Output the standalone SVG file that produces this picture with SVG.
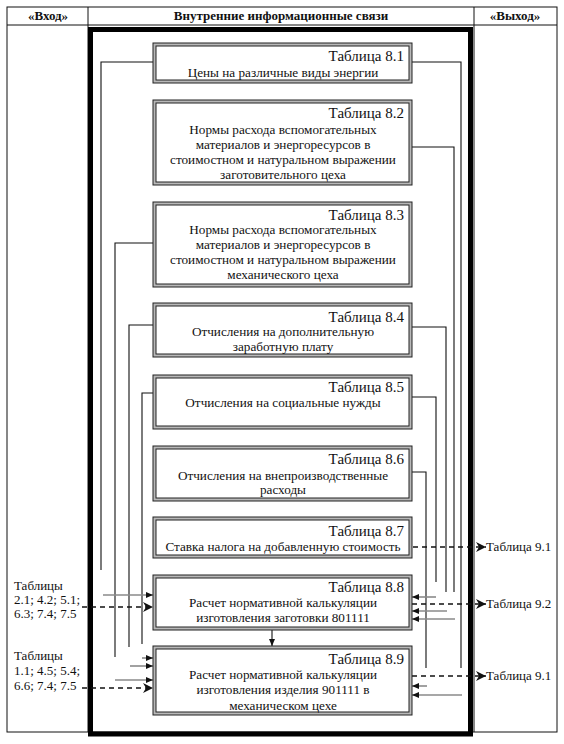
<svg xmlns="http://www.w3.org/2000/svg" width="564" height="744" viewBox="0 0 564 744">
<style>
text{font-family:"Liberation Serif","Times New Roman",serif;fill:#111}
.hd{font-size:13px;font-weight:bold;text-anchor:middle}
.tt{font-size:15px;text-anchor:end}
.bd{font-size:13.2px;text-anchor:middle}
.io{font-size:13px}
.ob{fill:#b8b8b8;stroke:#222;stroke-width:1}
.ib{fill:#fff;stroke:#222;stroke-width:1}
.ln{fill:none;stroke:#111;stroke-width:1.1}
.gr{fill:none;stroke:#8a8a8a;stroke-width:1.6;marker-end:url(#ah)}
.ds{fill:none;stroke:#111;stroke-width:1.4;stroke-dasharray:5,4;marker-end:url(#ch)}
</style>
<defs>
<marker id="ah" markerUnits="userSpaceOnUse" markerWidth="7" markerHeight="6" refX="7" refY="3" orient="auto"><path d="M0,0 L7,3 L0,6 z" fill="#111"/></marker>
<marker id="ch" markerUnits="userSpaceOnUse" markerWidth="10" markerHeight="10" refX="10" refY="5" orient="auto"><path d="M0,0 L10,5 L0,10 L3,5 z" fill="#111"/></marker>
</defs>
<rect width="564" height="744" fill="#fff"/>
<g id="table">
<rect x="7" y="7" width="550" height="725" fill="none" stroke="#111" stroke-width="1"/>
<line x1="7" y1="25" x2="557" y2="25" stroke="#111" stroke-width="1"/>
<line x1="88" y1="7" x2="88" y2="732" stroke="#111" stroke-width="1"/>
<line x1="474" y1="7" x2="474" y2="732" stroke="#111" stroke-width="1"/>
<text class="hd" x="48" y="20">«Вход»</text>
<text class="hd" x="281" y="20">Внутренние информационные связи</text>
<text class="hd" x="515" y="20">«Выход»</text>
<rect x="90.5" y="29.5" width="380" height="704.5" fill="none" stroke="#000" stroke-width="5"/>
</g>
<g id="connectors">
<path class="ln" d="M153,62 H101 V570"/>
<path class="ln" d="M153,243 H115 V657"/>
<path class="ln" d="M153,325 H129 V647"/>
<path class="ln" d="M153,393 H142 V644"/>
<path class="ln" d="M412,62 H461 V668"/>
<path class="ln" d="M412,147 H454 V592"/>
<path class="ln" d="M412,327 H446 V592"/>
<path class="ln" d="M412,397 H436 V582"/>
<path class="ln" d="M412,472 H426 V668"/>
<path class="gr" d="M103,595 H153"/>
<path class="gr" d="M142,658 H153"/>
<path class="gr" d="M130,666 H153"/>
<path class="gr" d="M115,680 H153"/>
<path class="gr" d="M436,597 H412"/>
<path class="gr" d="M447,611 H412"/>
<path class="gr" d="M455,619 H412"/>
<path class="gr" d="M427,686 H412"/>
<path class="gr" d="M462,695 H412"/>
<path class="ds" d="M82,607 H153"/>
<path class="ds" d="M82,688 H153"/>
<path class="ds" d="M404,547 H486"/>
<path class="ds" d="M412,604 H486"/>
<path class="ds" d="M412,676 H486"/>
<path class="ln" d="M272,630 V646" marker-end="url(#ah)"/>
</g>
<g id="in1">
<text class="io" x="14" y="590">Таблицы</text>
<text class="io" x="14" y="604">2.1; 4.2; 5.1;</text>
<text class="io" x="14" y="618">6.3; 7.4; 7.5</text>
</g>
<g id="in2">
<text class="io" x="14" y="660">Таблицы</text>
<text class="io" x="14" y="675">1.1; 4.5; 5.4;</text>
<text class="io" x="14" y="690">6.6; 7.4; 7.5</text>
</g>
<g id="out1"><text class="io" x="486" y="551">Таблица 9.1</text></g>
<g id="out2"><text class="io" x="486" y="608">Таблица 9.2</text></g>
<g id="out3"><text class="io" x="486" y="680">Таблица 9.1</text></g>
<g id="t81">
<rect class="ob" x="153" y="43" width="259" height="40"/><rect class="ib" x="156" y="46" width="253" height="34"/>
<text class="tt" x="404" y="61">Таблица 8.1</text>
<text class="bd" x="283" y="77">Цены на различные виды энергии</text>
</g>
<g id="t82">
<rect class="ob" x="153" y="100" width="259" height="85"/><rect class="ib" x="156" y="103" width="253" height="79"/>
<text class="tt" x="404" y="118">Таблица 8.2</text>
<text class="bd" x="283" y="134">Нормы расхода вспомогательных</text>
<text class="bd" x="283" y="149">материалов и энергоресурсов в</text>
<text class="bd" x="283" y="164">стоимостном и натуральном выражении</text>
<text class="bd" x="283" y="179">заготовительного цеха</text>
</g>
<g id="t83">
<rect class="ob" x="153" y="202" width="259" height="85"/><rect class="ib" x="156" y="205" width="253" height="79"/>
<text class="tt" x="404" y="220">Таблица 8.3</text>
<text class="bd" x="283" y="234">Нормы расхода вспомогательных</text>
<text class="bd" x="283" y="249">материалов и энергоресурсов в</text>
<text class="bd" x="283" y="264">стоимостном и натуральном выражении</text>
<text class="bd" x="283" y="279">механического цеха</text>
</g>
<g id="t84">
<rect class="ob" x="153" y="303" width="259" height="54"/><rect class="ib" x="156" y="306" width="253" height="48"/>
<text class="tt" x="404" y="322">Таблица 8.4</text>
<text class="bd" x="283" y="336">Отчисления на дополнительную</text>
<text class="bd" x="283" y="351">заработную плату</text>
</g>
<g id="t85">
<rect class="ob" x="153" y="375" width="259" height="54"/><rect class="ib" x="156" y="378" width="253" height="48"/>
<text class="tt" x="404" y="392">Таблица 8.5</text>
<text class="bd" x="283" y="407">Отчисления на социальные нужды</text>
</g>
<g id="t86">
<rect class="ob" x="153" y="446" width="259" height="55"/><rect class="ib" x="156" y="449" width="253" height="49"/>
<text class="tt" x="404" y="464">Таблица 8.6</text>
<text class="bd" x="283" y="480">Отчисления на внепроизводственные</text>
<text class="bd" x="283" y="494">расходы</text>
</g>
<g id="t87">
<rect class="ob" x="153" y="517" width="259" height="41"/><rect class="ib" x="156" y="520" width="253" height="35"/>
<text class="tt" x="404" y="536">Таблица 8.7</text>
<text class="bd" x="283" y="551">Ставка налога на добавленную стоимость</text>
</g>
<g id="t88">
<rect class="ob" x="153" y="575" width="259" height="55"/><rect class="ib" x="156" y="578" width="253" height="49"/>
<text class="tt" x="404" y="592">Таблица 8.8</text>
<text class="bd" x="283" y="607">Расчет нормативной калькуляции</text>
<text class="bd" x="283" y="622">изготовления заготовки 801111</text>
</g>
<g id="t89">
<rect class="ob" x="153" y="646" width="259" height="69"/><rect class="ib" x="156" y="649" width="253" height="63"/>
<text class="tt" x="404" y="664">Таблица 8.9</text>
<text class="bd" x="283" y="679">Расчет нормативной калькуляции</text>
<text class="bd" x="283" y="694">изготовления изделия 901111 в</text>
<text class="bd" x="283" y="710">механическом цехе</text>
</g>
</svg>
